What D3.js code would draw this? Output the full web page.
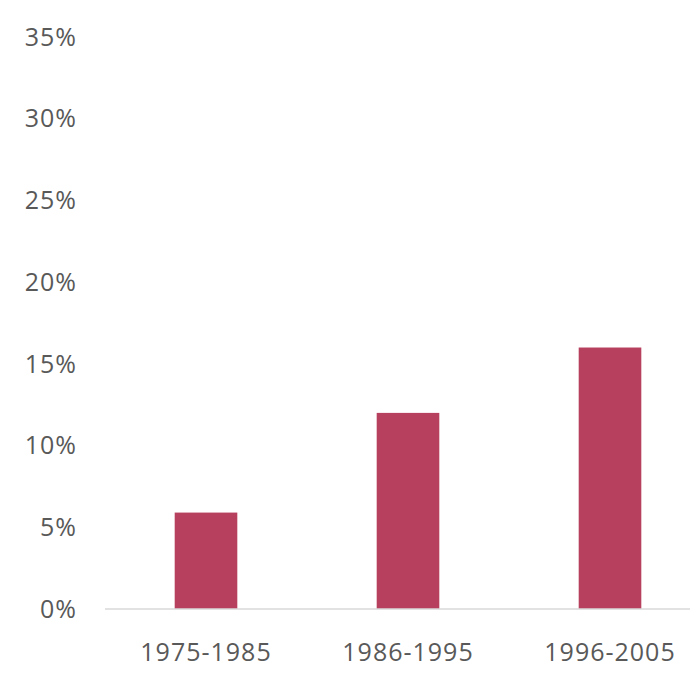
<!DOCTYPE html>
<html>
<head>
<meta charset="utf-8">
<script src="https://cdn.jsdelivr.net/npm/d3@7"></script>
<style>
  html, body { margin: 0; padding: 0; background: #fff; }
  text { font-family: "Open Sans", sans-serif; fill: #595959; }
</style>
</head>
<body>
<div id="chart"></div>
<script>
const periods = ["1975-1985", "1986-1995", "1996-2005"];
const shares = [5.9, 12.0, 16.0];
const yTicks = [0, 5, 10, 15, 20, 25, 30, 35];

const width = 690, height = 690;

const svg = d3.select("#chart")
  .append("svg")
  .attr("width", width)
  .attr("height", height);

// bandes: la darrera surt una mica pel marge dret
const x = d3.scaleBand()
  .domain(periods)
  .range([105, 711])
  .paddingInner(0.69)
  .paddingOuter(0.345);

const y = d3.scaleLinear()
  .domain([0, 35])
  .range([609, 37]);

svg.append("g")
  .selectAll("rect")
  .data(periods)
  .join("rect")
  .attr("x", d => x(d))
  .attr("y", (d, i) => y(shares[i]))
  .attr("width", x.bandwidth())
  .attr("height", (d, i) => y(0) - y(shares[i]))
  .attr("fill", "#b7405f");

svg.append("line")
  .attr("x1", 105)
  .attr("x2", 711)
  .attr("y1", y(0))
  .attr("y2", y(0))
  .attr("stroke", "#d9d9d9")
  .attr("stroke-width", 1.5);

svg.append("g")
  .selectAll("text")
  .data(yTicks)
  .join("text")
  .attr("x", 77)
  .attr("y", d => y(d))
  .attr("dy", "0.35em")
  .attr("text-anchor", "end")
  .style("font-size", "25px")
  .style("letter-spacing", "1px")
  .text(d => d + "%");

svg.append("g")
  .selectAll("text")
  .data(periods)
  .join("text")
  .attr("x", d => x(d) + x.bandwidth() / 2)
  .attr("y", 652)
  .attr("dy", "0.35em")
  .attr("text-anchor", "middle")
  .style("font-size", "25px")
  .style("letter-spacing", "1px")
  .text(d => d);
</script>
</body>
</html>
